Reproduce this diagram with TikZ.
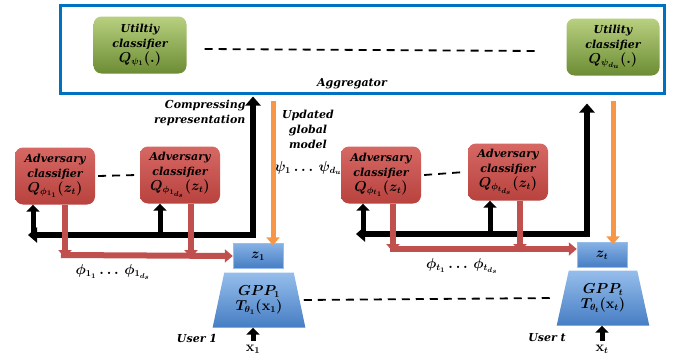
\documentclass[tikz,border=0pt]{standalone}
\usepackage{amsmath}
\usepackage{amssymb}
\usepackage{fontspec}
\setmainfont{DejaVu Serif}
\usepackage{xcolor}
\usepackage{tikz}
\usetikzlibrary{positioning}
\usetikzlibrary{shapes.geometric}
\usetikzlibrary{arrows.meta}

\definecolor{aggblue}{RGB}{0,112,192}
\definecolor{utiltop}{RGB}{184,208,128}
\definecolor{utilbot}{RGB}{108,140,52}
\definecolor{advtop}{RGB}{214,104,100}
\definecolor{advbot}{RGB}{184,66,62}
\definecolor{gpptop}{RGB}{150,190,236}
\definecolor{gppbot}{RGB}{70,125,196}
\definecolor{arrred}{RGB}{192,80,77}
\definecolor{arrorange}{RGB}{247,150,70}

\newcommand{\mth}[1]{{\fontsize{13.5}{15}\selectfont$#1$}}

\tikzset{
  txt/.style={font=\fontsize{11}{15}\selectfont\bfseries\itshape\boldmath},
  utilbox/.style={txt,rounded corners=8pt,top color=utiltop,bottom color=utilbot,
    minimum width=93pt,minimum height=57pt,align=center,inner sep=1pt},
  advbox/.style={txt,rounded corners=8pt,top color=advtop,bottom color=advbot,
    minimum width=80pt,minimum height=57pt,align=center,inner sep=1pt},
  zbox/.style={txt,top color=gpptop!80!gppbot,bottom color=gppbot,draw=gpptop,
    minimum width=50pt,minimum height=25pt,inner sep=0pt},
  gppbox/.style={txt,trapezium,trapezium stretches=true,trapezium angle=75,
    top color=gpptop,bottom color=gppbot,minimum width=93pt,minimum height=55pt,
    align=center,inner sep=1pt},
  blk/.style={line width=5.5pt,-{Triangle[length=9pt,width=15pt]}},
  blks/.style={line width=5pt,-{Triangle[length=7pt,width=13pt]}},
  redarr/.style={draw=arrred,line width=6pt,-{Triangle[length=8pt,width=13pt]}},
  orarr/.style={draw=arrorange,line width=5pt,-{Triangle[length=8pt,width=13pt]}},
  dashline/.style={line width=1.8pt,dash pattern=on 8pt off 6pt}
}

\begin{document}
\begin{tikzpicture}[x=1pt,y=-1pt]
\useasboundingbox (0,0) rectangle (697,356);

% aggregator
\node[draw=aggblue,line width=3pt,fill=white,minimum width=604pt,minimum height=88pt] (agg) at (362,49) {};
\node[txt] (aggtxt) at (352,84) {Aggregator};
\node[utilbox] (util1) at (140,45) {Utiltiy\\classifier\\\mth{Q_{\psi_1}(.)}};
\node[utilbox] (utilN) at (613,47) {Utility\\classifier\\\mth{Q_{\psi_{d_u}}(.)}};
\draw[dashline] (util1.east) ++(18,4) -- ([xshift=-29pt,yshift=-4pt]utilN.west);

% user 1
\node[advbox] (adv11) at (55,176) {Adversary\\classifier\\\mth{Q_{\phi_{1_1}}(z_t)}};
\node[advbox] (adv1d) at (180,175) {Adversary\\classifier\\\mth{Q_{\phi_{1_{d_s}}}(z_t)}};
\node[zbox] (z1) at (258,256) {\mth{z_1}};
\node[gppbox] (gpp1) at (259,300) {\mth{GPP_1}\\\mth{T_{\theta_1}(\mathbf{x}_1)}};
\node[txt] (x1) at (253,349) {\mth{\mathbf{x}_1}};
\node[txt] (user1) at (197,338) {User 1};
\node[txt] (phi1) at (113,272) {\mth{\phi_{1_1}\ldots\,\phi_{1_{d_s}}}};
\node[txt,align=right,anchor=east] (comp) at (249,113) {Compressing\\representation};
\node[txt,align=center] (upd) at (308,129) {Updated\\global\\model};
\node[txt] (psi) at (308,168) {\mth{\psi_1\ldots\,\psi_{d_u}}};

\coordinate (bL) at (253,235);
\coordinate (eL) at (28,235);
\coordinate (oL) at (273,101);
\coordinate (rL) at (61,255);

\draw[dashline] (adv11.east) ++(3,0) -- ([xshift=-3pt]adv1d.west);
\draw[blk] (bL) -- ([yshift=-2pt]bL |- agg.south);
\draw[blk] ([xshift=2.75pt]bL) -- (eL);
\draw[blks] ([xshift=-22pt]adv11.south |- bL) -- ([xshift=-22pt]adv11.south);
\draw[blks] ([xshift=-20pt]adv1d.south |- bL) -- ([xshift=-20pt]adv1d.south);
\draw[orarr] (oL) -- ([yshift=-2pt]oL |- z1.north);
\draw[redarr] ([xshift=10pt]adv11.south) -- ([xshift=10pt,yshift=-3pt]adv11.south |- rL);
\draw[redarr] ([xshift=11pt]adv1d.south) -- ([xshift=11pt,yshift=-3pt]adv1d.south |- rL);
\draw[redarr] (rL) -- (z1.west);
\draw[blks] (x1.north) -- (x1.north |- gpp1.south);

% user t
\node[advbox] (advt1) at (381,175) {Adversary\\classifier\\\mth{Q_{\phi_{t_1}}(z_t)}};
\node[advbox] (advtd) at (508,172) {Adversary\\classifier\\\mth{Q_{\phi_{t_{d_s}}}(z_t)}};
\node[zbox] (zt) at (602,255) {\mth{z_t}};
\node[gppbox] (gppt) at (603,298) {\mth{GPP_t}\\\mth{T_{\theta_t}(\mathbf{x}_t)}};
\node[txt] (xt) at (602,349) {\mth{\mathbf{x}_t}};
\node[txt] (usert) at (547,338) {User t};
\node[txt] (phit) at (462,266) {\mth{\phi_{t_1}\ldots\,\phi_{t_{d_s}}}};

\coordinate (bR) at (587,234);
\coordinate (eR) at (356,234);
\coordinate (oR) at (613,101);
\coordinate (rR) at (390,249);

\draw[dashline] (advt1.east) ++(3,0) -- ([xshift=-3pt]advtd.west);
\draw[blk] (bR) -- ([yshift=-9pt]bR |- agg.south);
\draw[blk] ([xshift=2.75pt]bR) -- (eR);
\draw[blks] ([xshift=-18pt]advt1.south |- bR) -- ([xshift=-18pt]advt1.south);
\draw[blks] ([xshift=-18pt]advtd.south |- bR) -- ([xshift=-18pt]advtd.south);
\draw[orarr] (oR) -- ([yshift=-2pt]oR |- zt.north);
\draw[redarr] ([xshift=12pt]advt1.south) -- ([xshift=12pt,yshift=-3pt]advt1.south |- rR);
\draw[redarr] ([xshift=12pt]advtd.south) -- ([xshift=12pt,yshift=-3pt]advtd.south |- rR);
\draw[redarr] (rR) -- (rR -| zt.west);
\draw[blks] (xt.north) -- (xt.north |- gppt.south);

\draw[dashline] ([xshift=4pt]gpp1.east) -- ([xshift=-8pt]gppt.west);
\end{tikzpicture}
\end{document}
